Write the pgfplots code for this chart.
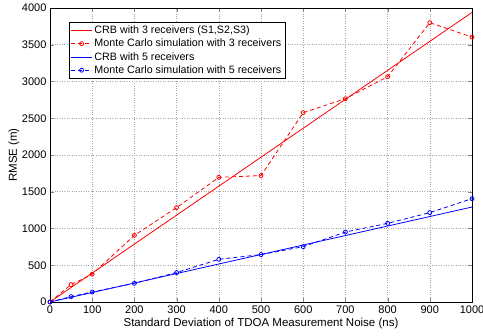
\documentclass[border=0pt]{standalone}
\usepackage{fontspec}
\setmainfont{Liberation Sans}
\usepackage{pgfplots}
\pgfplotsset{compat=1.18}
\pgfplotsset{
  solidleg/.style={legend image code/.code={%
    \pgfsetstrokecolor{white}\pgfsetstrokecolor{#1}\pgfsetlinewidth{0.8pt}%
    \pgfpathmoveto{\pgfpoint{0pt}{0pt}}\pgfpathlineto{\pgfpoint{21pt}{0pt}}\pgfusepath{stroke}}},
  dashleg/.style={legend image code/.code={%
    \pgfsetstrokecolor{white}\pgfsetstrokecolor{#1}\pgfsetlinewidth{0.8pt}%
    \pgfsetdash{{4pt}{3pt}}{0pt}%
    \pgfpathmoveto{\pgfpoint{0pt}{0pt}}\pgfpathlineto{\pgfpoint{21pt}{0pt}}\pgfusepath{stroke}%
    \pgfsetdash{}{0pt}%
    \pgfpathcircle{\pgfpoint{10.5pt}{0pt}}{2pt}\pgfusepath{stroke}}},
}
\begin{document}
\begin{tikzpicture}
\begin{axis}[
  scale only axis,
  width=422pt, height=294pt,
  xmin=0, xmax=1000, ymin=0, ymax=4000,
  xtick={0,100,...,1000}, ytick={0,500,...,4000},
  /pgf/number format/assume math mode=true,
  /pgf/number format/set thousands separator={},
  tick label style={font=\fontsize{11}{13}\selectfont},
  xlabel={Standard Deviation of TDOA Measurement Noise (ns)},
  ylabel={RMSE (m)},
  every axis x label/.style={at={(axis description cs:0.5,0)}, yshift=-22pt, anchor=center, font=\fontsize{11.5}{13}\selectfont},
  every axis y label/.style={at={(axis description cs:0,0.5)}, xshift=-36pt, rotate=90, anchor=center, font=\fontsize{11.5}{13}\selectfont},
  tick align=inside, tick pos=both,
  major tick length=4pt,
  grid=major,
  grid style={dotted, gray!70, line width=0.5pt},
  axis line style={line width=0.8pt},
  legend style={at={(0.045,0.952)}, anchor=north west,
    draw=black, font=\fontsize{10.7}{12.5}\selectfont,
    inner sep=1.5pt, row sep=0pt, cells={anchor=west}},
  legend cell align=left,
]
\addplot[color=red, line width=0.8pt, solidleg=red] coordinates {(0,0) (1000,3940)};
\addlegendentry{CRB with 3 receivers (S1,S2,S3)}
\addplot[color=red, line width=0.8pt, dash pattern=on 4pt off 3pt, mark=o, mark size=2pt, mark options={solid}, dashleg=red] coordinates {
(0,0) (50,237) (100,377) (200,907) (300,1284) (400,1696) (500,1720) (600,2576) (700,2766) (800,3065) (900,3800) (1000,3604)};
\addlegendentry{Monte Carlo simulation with 3 receivers}
\addplot[color=blue, line width=0.8pt, solidleg=blue] coordinates {(0,0) (1000,1292)};
\addlegendentry{CRB with 5 receivers}
\addplot[color=blue, line width=0.8pt, dash pattern=on 4pt off 3pt, mark=o, mark size=2pt, mark options={solid}, dashleg=blue] coordinates {
(0,0) (50,73) (100,136) (200,254) (300,400) (400,581) (500,645) (600,753) (700,952) (800,1070) (900,1216) (1000,1406)};
\addlegendentry{Monte Carlo simulation with 5 receivers}
\end{axis}
\pgfresetboundingbox
\useasboundingbox ([shift={(-50pt,-34pt)}]current axis.south west) rectangle ([shift={(11pt,8pt)}]current axis.north east);
\end{tikzpicture}
\end{document}
